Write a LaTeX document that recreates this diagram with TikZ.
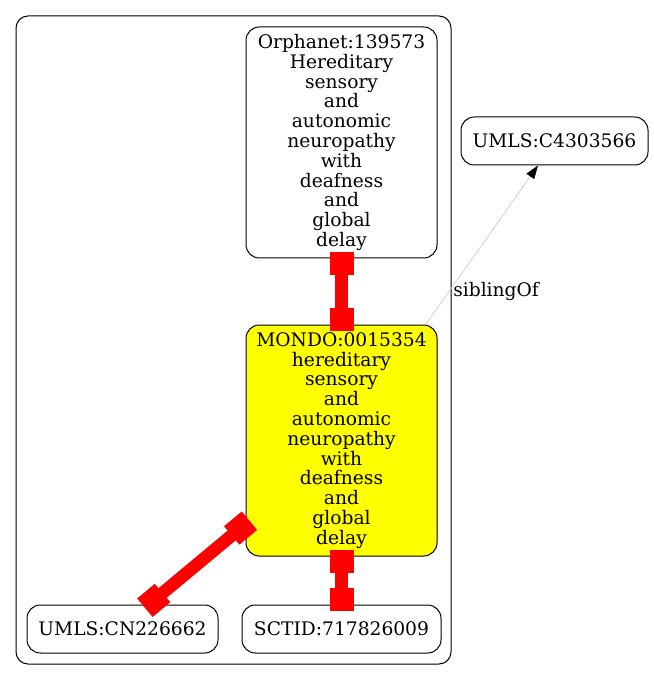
\documentclass[tikz,border=0pt]{standalone}
\usepackage{fontspec}
\setmainfont{DejaVu Serif}
\usetikzlibrary{arrows.meta}
\definecolor{nodeyellow}{RGB}{255,255,0}
\definecolor{edgered}{RGB}{255,0,0}
\begin{document}
\begin{tikzpicture}[x=0.75pt,y=-0.75pt,
  txt/.style={font=\fontsize{14pt}{14.85pt}\selectfont},
  box/.style={txt, draw=black, line width=0.75pt, rounded corners=10pt, inner sep=0pt, align=center},
  redbox/.style={fill=edgered, draw=none, inner sep=0pt, minimum width=17.25pt, minimum height=18pt, outer xsep=-4.875pt, outer ysep=0pt, allow upside down},
  redline/.style={draw=edgered, line width=9.5pt},
  sib/.style={draw=gray!40, line width=0.5pt, -{Triangle[length=10pt,width=7pt,black]}},
  ]
\useasboundingbox (0,0) rectangle (653,680);
\node[draw=black, line width=0.75pt, rounded corners=9pt, minimum width=326.25pt, minimum height=486pt, inner sep=0pt] (cluster) at (233.5,340) {};
\node[box, minimum width=143.25pt, minimum height=173.25pt] (orph) at (341.5,142.5)
  {Orphanet:139573\\Hereditary\\sensory\\and\\autonomic\\neuropathy\\with\\deafness\\and\\global\\delay};
\node[box, fill=nodeyellow, minimum width=143.25pt, minimum height=173.25pt] (mondo) at (341.5,440.5)
  {MONDO:0015354\\hereditary\\sensory\\and\\autonomic\\neuropathy\\with\\deafness\\and\\global\\delay};
\node[box, minimum width=143.25pt, minimum height=36pt] (cn) at (122.5,629) {UMLS:CN226662};
\node[box, minimum width=149.25pt, minimum height=36pt] (sct) at (341.5,629) {SCTID:717826009};
\node[box, minimum width=140.25pt, minimum height=36pt] (c43) at (554.5,141) {UMLS:C4303566};

\draw[redline] (orph.south) -- (mondo.north)
  node[redbox, sloped, pos=0, anchor=west] (b1) {} node[redbox, sloped, pos=1, anchor=east] (b2) {};
\draw[redline] (mondo.south) -- (sct.north)
  node[redbox, sloped, pos=0, anchor=west] (b3) {} node[redbox, sloped, pos=1, anchor=east] (b4) {};
\draw[redline] (mondo.221) -- (cn.43)
  node[redbox, sloped, pos=0, anchor=west, outer xsep=-3.8pt] (b5) {} node[redbox, sloped, pos=1, anchor=east, outer xsep=-3.8pt] (b6) {};

\draw[sib] (mondo.54) -- (c43.236);
\node[txt, anchor=west, inner sep=0pt] (lbl) at (453,291) {siblingOf};
\end{tikzpicture}
\end{document}
